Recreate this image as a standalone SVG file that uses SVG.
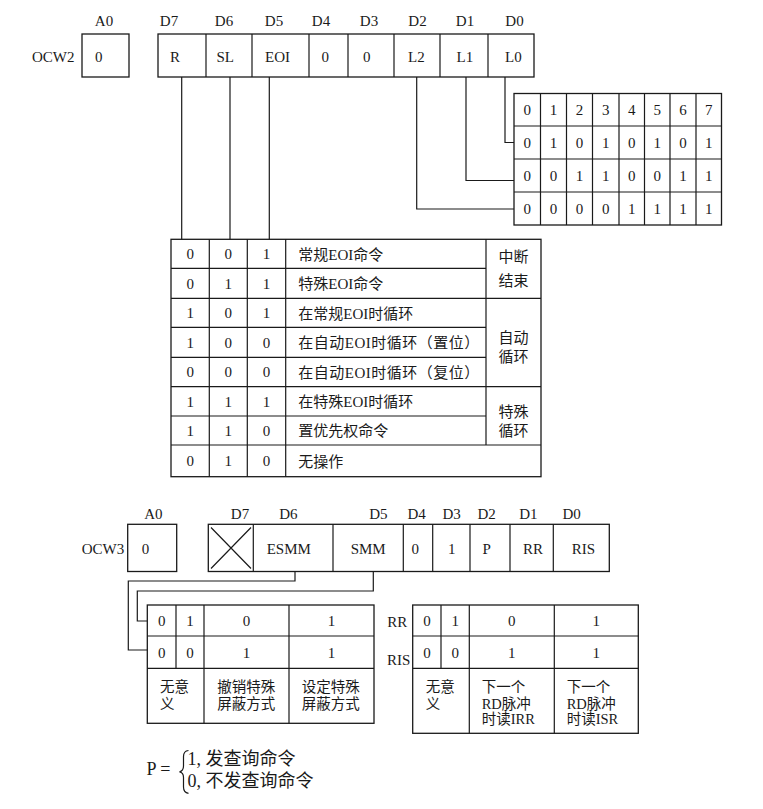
<svg xmlns="http://www.w3.org/2000/svg" width="763" height="809" viewBox="0 0 763 809">
<style>
.bg{fill:#ffffff}
.box{fill:#ffffff;stroke:#1a1a1a;stroke-width:1.3}
.ln{fill:none;stroke:#1a1a1a;stroke-width:1.2}
.t{font-family:"Liberation Serif","Noto Sans CJK SC",serif;font-size:15px;fill:#1a1a1a}
.s{font-size:14.5px}
.f{font-size:18px}
.c{text-anchor:middle}
</style>
<rect class="bg" x="0" y="0" width="763" height="809"/>

<!-- OCW2 -->
<g id="ocw2-label">
<text class="t" x="32" y="62">OCW2</text>
<text class="t c" x="104" y="26">A0</text>
</g>
<g id="ocw2-a0">
<rect class="box" x="82" y="34" width="47" height="43"/>
<text class="t" x="95" y="62">0</text>
</g>
<g id="ocw2-reg">
<rect class="box" x="158" y="34" width="376" height="43"/>
<path class="ln" d="M206 34V77M252 34V77M309 34V77M348 34V77M394 34V77M440 34V77M488 34V77"/>
<text class="t c" x="169" y="26">D7</text>
<text class="t c" x="224" y="26">D6</text>
<text class="t c" x="274" y="26">D5</text>
<text class="t c" x="321" y="26">D4</text>
<text class="t c" x="369" y="26">D3</text>
<text class="t c" x="417.5" y="26">D2</text>
<text class="t c" x="465" y="26">D1</text>
<text class="t c" x="514.5" y="26">D0</text>
<text class="t" x="170" y="62">R</text>
<text class="t" x="216.5" y="62">SL</text>
<text class="t" x="265" y="62">EOI</text>
<text class="t" x="321.5" y="62">0</text>
<text class="t" x="363" y="62">0</text>
<text class="t" x="408" y="62">L2</text>
<text class="t" x="456.5" y="62">L1</text>
<text class="t" x="505" y="62">L0</text>
</g>

<g id="level-table">
<rect class="box" x="514" y="93.5" width="207.5" height="131.5"/>
<path class="ln" d="M540.5 93.5V225M566.5 93.5V225M592.5 93.5V225M619 93.5V225M644.5 93.5V225M670 93.5V225M696 93.5V225M514 126H721.5M514 159H721.5M514 192H721.5"/>
<g class="t c">
<text x="527.3" y="115">0</text><text x="553.5" y="115">1</text><text x="579.5" y="115">2</text><text x="605.8" y="115">3</text><text x="631.8" y="115">4</text><text x="657.3" y="115">5</text><text x="683" y="115">6</text><text x="708.8" y="115">7</text>
<text x="527.3" y="148">0</text><text x="553.5" y="148">1</text><text x="579.5" y="148">0</text><text x="605.8" y="148">1</text><text x="631.8" y="148">0</text><text x="657.3" y="148">1</text><text x="683" y="148">0</text><text x="708.8" y="148">1</text>
<text x="527.3" y="181">0</text><text x="553.5" y="181">0</text><text x="579.5" y="181">1</text><text x="605.8" y="181">1</text><text x="631.8" y="181">0</text><text x="657.3" y="181">0</text><text x="683" y="181">1</text><text x="708.8" y="181">1</text>
<text x="527.3" y="214">0</text><text x="553.5" y="214">0</text><text x="579.5" y="214">0</text><text x="605.8" y="214">0</text><text x="631.8" y="214">1</text><text x="657.3" y="214">1</text><text x="683" y="214">1</text><text x="708.8" y="214">1</text>
</g>
</g>

<g id="ocw2-cmd-table">
<rect class="box" x="171" y="239.3" width="370" height="237.4"/>
<path class="ln" d="M209.3 239.3V476.7M247.3 239.3V476.7M285.7 239.3V476.7M486 239.3V445M171 298.3H541M171 386.7H541M171 445H541M171 268.3H486M171 327.3H486M171 357.3H486M171 416H486"/>
<g class="t c">
<text x="190.2" y="259">0</text><text x="228.3" y="259">0</text><text x="266.5" y="259">1</text>
<text x="190.2" y="288.5">0</text><text x="228.3" y="288.5">1</text><text x="266.5" y="288.5">1</text>
<text x="190.2" y="318">1</text><text x="228.3" y="318">0</text><text x="266.5" y="318">1</text>
<text x="190.2" y="347.5">1</text><text x="228.3" y="347.5">0</text><text x="266.5" y="347.5">0</text>
<text x="190.2" y="377">0</text><text x="228.3" y="377">0</text><text x="266.5" y="377">0</text>
<text x="190.2" y="406.5">1</text><text x="228.3" y="406.5">1</text><text x="266.5" y="406.5">1</text>
<text x="190.2" y="435.5">1</text><text x="228.3" y="435.5">1</text><text x="266.5" y="435.5">0</text>
<text x="190.2" y="466">0</text><text x="228.3" y="466">1</text><text x="266.5" y="466">0</text>
</g>
<g class="t">
<text x="298.3" y="259.5">常规EOI命令</text>
<text x="298.3" y="289">特殊EOI命令</text>
<text x="298.3" y="318.5">在常规EOI时循环</text>
<text x="298.3" y="348" textLength="181" lengthAdjust="spacing">在自动EOI时循环（置位）</text>
<text x="298.3" y="377.5" textLength="181" lengthAdjust="spacing">在自动EOI时循环（复位）</text>
<text x="298.3" y="407">在特殊EOI时循环</text>
<text x="298.3" y="436" textLength="90" lengthAdjust="spacing">置优先权命令</text>
<text x="298.3" y="466.5">无操作</text>
</g>
<g class="t c">
<text x="513.5" y="262">中断</text>
<text x="513.5" y="285.5">结束</text>
<text x="513.5" y="342.8">自动</text>
<text x="513.5" y="362.2">循环</text>
<text x="513.5" y="417.2">特殊</text>
<text x="513.5" y="435.5">循环</text>
</g>
</g>

<!-- OCW3 -->
<g id="ocw3-label">
<text class="t" x="81.7" y="554">OCW3</text>
<text class="t c" x="153.3" y="518.5">A0</text>
</g>
<g id="ocw3-a0">
<rect class="box" x="127.7" y="524.3" width="49" height="47.2"/>
<text class="t" x="141.7" y="553.5">0</text>
</g>
<g id="ocw3-reg">
<rect class="box" x="208.3" y="524.3" width="401" height="47.2"/>
<path class="ln" d="M253.3 524.3V571.5M333 524.3V571.5M403.3 524.3V571.5M432.7 524.3V571.5M470 524.3V571.5M510 524.3V571.5M553.3 524.3V571.5"/>
<path class="ln" d="M211 527.5L251 568.5M251 527.5L211 568.5"/>
<text class="t c" x="240" y="518.5">D7</text>
<text class="t c" x="288.3" y="518.5">D6</text>
<text class="t c" x="378.3" y="518.5">D5</text>
<text class="t c" x="416.7" y="518.5">D4</text>
<text class="t c" x="451.7" y="518.5">D3</text>
<text class="t c" x="486.7" y="518.5">D2</text>
<text class="t c" x="528.3" y="518.5">D1</text>
<text class="t c" x="571.7" y="518.5">D0</text>
<text class="t" x="266.7" y="553.5">ESMM</text>
<text class="t" x="350.7" y="553.5">SMM</text>
<text class="t" x="411.5" y="553.5">0</text>
<text class="t" x="448" y="553.5">1</text>
<text class="t" x="482.5" y="553.5">P</text>
<text class="t" x="523" y="553.5">RR</text>
<text class="t" x="571.7" y="553.5">RIS</text>
</g>

<g id="smm-table">
<rect class="box" x="147.3" y="605" width="226.7" height="118.3"/>
<path class="ln" d="M176 605V668.3M204 605V723.3M289 605V723.3M147.3 636H374M147.3 668.3H374"/>
<g class="t c">
<text x="161.7" y="626">0</text><text x="190" y="626">1</text><text x="246.5" y="626">0</text><text x="331.5" y="626">1</text>
<text x="161.7" y="657.5">0</text><text x="190" y="657.5">0</text><text x="246.5" y="657.5">1</text><text x="331.5" y="657.5">1</text>
</g>
<g class="t s">
<text x="160" y="691.5">无意</text>
<text x="160" y="708.5">义</text>
<text x="217.3" y="691.5">撤销特殊</text>
<text x="217.3" y="708.5">屏蔽方式</text>
<text x="301.7" y="691.5">设定特殊</text>
<text x="301.7" y="708.5">屏蔽方式</text>
</g>
</g>

<g id="rr-table">
<text class="t" x="387.3" y="627">RR</text>
<text class="t" x="387" y="665">RIS</text>
<rect class="box" x="412.7" y="605" width="225.6" height="128.3"/>
<path class="ln" d="M441 605V668.3M469.3 605V733.3M554.3 605V733.3M412.7 636H638.3M412.7 668.3H638.3"/>
<g class="t c">
<text x="427" y="626">0</text><text x="455.2" y="626">1</text><text x="511.8" y="626">0</text><text x="596.3" y="626">1</text>
<text x="427" y="657.5">0</text><text x="455.2" y="657.5">0</text><text x="511.8" y="657.5">1</text><text x="596.3" y="657.5">1</text>
</g>
<g class="t s">
<text x="425.7" y="692">无意</text>
<text x="425.7" y="708.5">义</text>
<text x="481.7" y="692">下一个</text>
<text x="481.7" y="708.5">RD脉冲</text>
<text x="481.7" y="724">时读IRR</text>
<text x="566.7" y="692">下一个</text>
<text x="566.7" y="708.5">RD脉冲</text>
<text x="566.7" y="724">时读ISR</text>
</g>
</g>

<g id="p-formula">
<text class="t f" x="146.5" y="774.5">P =</text>
<path class="ln" d="M188.5 750.5Q183.5 751 183.5 756.5L183.5 766Q183.5 771 179.5 771.8Q183.5 772.5 183.5 777.5L183.5 787Q183.5 792.5 188.5 793.3"/>
<text class="t f" x="187.5" y="764.5">1, 发查询命令</text>
<text class="t f" x="187.5" y="786.5">0, 不发查询命令</text>
</g>

<g id="connectors">
<path class="ln" d="M181.7 77V239.3M230 77V239.3M269.3 77V239.3"/>
<path class="ln" d="M505 77V142.5H514M466 77V180.5H514M416.7 77V209H514"/>
<path class="ln" d="M295 571.5V581H128.3V650H147.3"/>
<path class="ln" d="M373.3 571.5V591H137.3V621H147.3"/>
</g>
</svg>
